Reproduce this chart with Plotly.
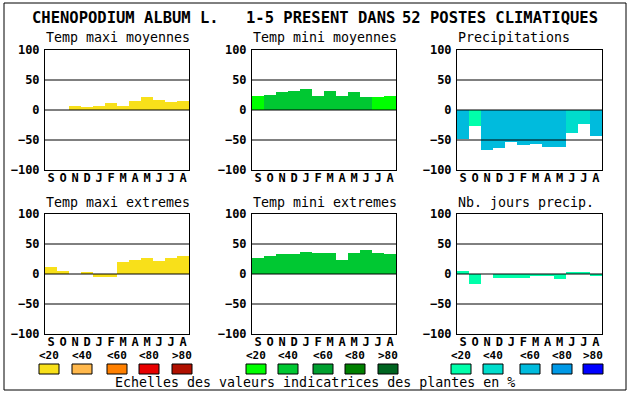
import plotly.graph_objects as go

W, H = 630, 394

# ---------------- data ----------------
months = ["S", "O", "N", "D", "J", "F", "M", "A", "M", "J", "J", "A"]
month_pos = list(range(12))

tmax_moy = [0, 0, 7, 5.5, 7, 12, 7, 15.5, 22, 17, 14, 15.5]
tmin_moy = [24, 25.5, 30.5, 32, 35.5, 24, 32, 24, 30.5, 22, 22, 24]
precip = [-49, -26, -66, -64, -54, -58, -56, -61, -61, -38, -24, -43]
tmax_ext = [12, 5.5, 0, 4, -4.5, -4.5, 20.5, 24, 27, 22, 27, 30.5]
tmin_ext = [27, 30.5, 34, 34, 37, 35.5, 35.5, 24, 35.5, 40.5, 35.5, 34]
nb_jours = [5.5, -16, 0, -6, -6, -6, -3, -3, -8, 4, 2, -3]

# colour class (index into the scale) of each bar
tmax_moy_cls = [0] * 12
tmin_moy_cls = [0, 1, 1, 1, 1, 1, 1, 1, 1, 1, 0, 0]
precip_cls = [2, 0, 2, 2, 2, 2, 2, 2, 2, 1, 1, 2]
tmax_ext_cls = [0] * 12
tmin_ext_cls = [1] * 12
nb_jours_cls = [0] * 12

scale_labels = ["<20", "<40", "<60", "<80", ">80"]
warm = ["#F8E01A", "#FFB84C", "#FF8000", "#E80000", "#B01000"]
greens = ["#00FF00", "#00C832", "#00A030", "#008000", "#006420"]
blues = ["#00FFAA", "#00DDCC", "#00BBDD", "#0099E6", "#0000FF"]

y_ticks = [-100, -50, 0, 50, 100]
grid_vals = [-50, 0, 50]

title_parts = ["CHENOPODIUM ALBUM L.", "1-5 PRESENT DANS", "52 POSTES CLIMATIQUES"]
caption = "Echelles des valeurs indicatrices des plantes en %"

panels = [
    ("Temp maxi moyennes", tmax_moy, tmax_moy_cls, warm),
    ("Temp mini moyennes", tmin_moy, tmin_moy_cls, greens),
    ("Precipitations", precip, precip_cls, blues),
    ("Temp maxi extremes", tmax_ext, tmax_ext_cls, warm),
    ("Temp mini extremes", tmin_ext, tmin_ext_cls, greens),
    ("Nb. jours precip.", nb_jours, nb_jours_cls, blues),
]

# ---------------- layout geometry (pixels) ----------------
col_x = [(45, 189), (252, 396), (457, 602)]
row_y = [(50, 170), (214, 334)]


def px(x):
    return x / W


def py(y):
    return 1 - y / H


MONO = "DejaVu Sans Mono"

fig = go.Figure()
layout = dict(
    width=W, height=H, autosize=False,
    margin=dict(l=0, r=0, t=0, b=0, pad=0, autoexpand=False),
    paper_bgcolor="white", plot_bgcolor="white",
    showlegend=False, bargap=0,
    font=dict(family=MONO, color="black"),
)
shapes = []
annotations = []

for i, (name, vals, cls, pal) in enumerate(panels):
    r, c = divmod(i, 3)
    x0, x1 = col_x[c]
    y0, y1 = row_y[r]
    n = i + 1
    xa = "x" if n == 1 else f"x{n}"
    ya = "y" if n == 1 else f"y{n}"
    fig.add_trace(go.Bar(
        x=month_pos, y=vals, width=1,
        marker=dict(color=[pal[k] for k in cls], line=dict(width=0)),
        xaxis=xa, yaxis=ya, hoverinfo="skip",
    ))
    layout["xaxis" if n == 1 else f"xaxis{n}"] = dict(
        domain=[px(x0), px(x1)], anchor=ya, range=[-0.5, 11.5],
        tickvals=month_pos, ticktext=months, ticks="", showgrid=False,
        zeroline=False, showline=True, linecolor="black", linewidth=1,
        mirror=True, fixedrange=True, ticklabelstandoff=-3, automargin=False,
        tickfont=dict(family=MONO, size=12, color="black", weight="bold"),
    )
    layout["yaxis" if n == 1 else f"yaxis{n}"] = dict(
        domain=[py(y1), py(y0)], anchor=xa, range=[-100, 100],
        tickvals=y_ticks, ticks="", showgrid=False, zeroline=False,
        showline=True, linecolor="black", linewidth=1, mirror=True,
        fixedrange=True, ticklabelstandoff=2, automargin=False,
        tickfont=dict(family=MONO, size=12, color="black", weight="bold"),
    )
    for g in grid_vals:
        shapes.append(dict(
            type="line", xref=f"{xa} domain", yref=ya, x0=0, x1=1, y0=g, y1=g,
            line=dict(color="black", width=1), layer="above",
        ))
    annotations.append(dict(
        text=name, xref="paper", yref="paper", x=px(x0 - 1), y=py(y0 - 12),
        xanchor="left", yanchor="middle", showarrow=False,
        font=dict(family=MONO, size=13.3, color="black"),
    ))

# title
annotations.append(dict(
    text=title_parts[0], xref="paper", yref="paper", x=px(30), y=py(18),
    xanchor="left", yanchor="middle", showarrow=False,
    font=dict(family=MONO, size=15.5, color="black", weight="bold"),
))
annotations.append(dict(
    text=title_parts[1], xref="paper", yref="paper", x=px(244), y=py(18),
    xanchor="left", yanchor="middle", showarrow=False,
    font=dict(family=MONO, size=15.5, color="black", weight="bold"),
))
annotations.append(dict(
    text=title_parts[2], xref="paper", yref="paper", x=px(600), y=py(18),
    xanchor="right", yanchor="middle", showarrow=False,
    font=dict(family=MONO, size=15.5, color="black", weight="bold"),
))

# colour scales legend
box_x = [
    [39, 72, 107, 139, 172],
    [246, 278, 313, 345, 378],
    [451, 483, 520, 552, 583],
]
for pal, xs in zip([warm, greens, blues], box_x):
    for col, lab, bx in zip(pal, scale_labels, xs):
        shapes.append(dict(
            type="rect", xref="paper", yref="paper",
            x0=px(bx), x1=px(bx + 20), y0=py(374), y1=py(364),
            fillcolor=col, line=dict(color="black", width=1), layer="above",
        ))
        annotations.append(dict(
            text=lab, xref="paper", yref="paper", x=px(bx + 10), y=py(355.5),
            xanchor="center", yanchor="middle", showarrow=False,
            font=dict(family=MONO, size=11, color="black", weight="bold"),
        ))

annotations.append(dict(
    text=caption, xref="paper", yref="paper", x=px(315), y=py(382),
    xanchor="center", yanchor="middle", showarrow=False,
    font=dict(family=MONO, size=13.3, color="black"),
))

# outer frame
shapes.append(dict(
    type="rect", xref="paper", yref="paper", x0=px(4), x1=px(626),
    y0=py(390), y1=py(3), line=dict(color="black", width=1), layer="above",
))

layout["shapes"] = shapes
layout["annotations"] = annotations
fig.update_layout(**layout)
fig.write_html(
    "out.html",
    config={"displayModeBar": False, "responsive": False},
    post_script="document.body.style.margin='0';document.body.style.padding='0';",
)
